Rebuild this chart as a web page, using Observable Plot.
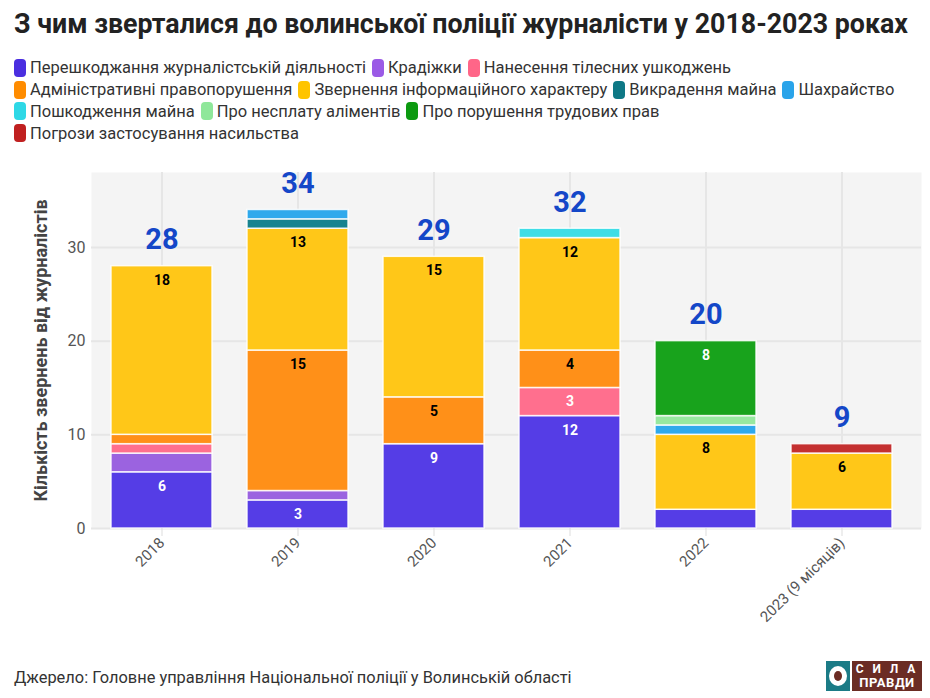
<!DOCTYPE html>
<html><head><meta charset="utf-8">
<script src="https://cdn.jsdelivr.net/npm/d3@7"></script>
<script src="https://cdn.jsdelivr.net/npm/@observablehq/plot@0.6"></script>
<style>
body{margin:0;background:#fff;font-family:"Roboto",sans-serif;width:930px;height:698px;position:relative;overflow:hidden}
#title{position:absolute;left:14px;top:7px;font-size:28px;font-weight:bold;color:#222;white-space:nowrap;transform-origin:0 0}
#legend{position:absolute;left:14px;top:57px;width:912px;font-size:16.5px;color:#333}
.row{height:21.8px;display:flex;align-items:center;white-space:nowrap}
.li{display:inline-flex;align-items:center;margin-right:6px;white-space:nowrap}
.sw{width:12px;height:18px;border-radius:4px;margin-right:4px;display:inline-block}
#chart{position:absolute;left:0;top:155px;width:930px}
#chart svg{max-width:none}
#src{position:absolute;left:14px;top:668px;font-size:16.4px;color:#333}
#logo{position:absolute;left:826px;top:661px;display:flex}
</style></head><body>
<div id="title">З чим зверталися до волинської поліції журналісти у 2018-2023 роках</div>
<div id="legend"></div>
<div id="chart"></div>
<div id="src">Джерело: Головне управління Національної поліції у Волинській області</div>
<div id="logo">
  <div style="width:24px;height:30px;background:#1b7b86;position:relative;margin-right:2px">
    <div style="position:absolute;left:3px;top:5px;width:18px;height:20px;border-radius:50%;background:#fff"></div>
    <div style="position:absolute;left:8px;top:10px;width:8px;height:10px;border-radius:50%;background:#6b2c24"></div>
  </div>
  <div style="width:70px;height:30px;background:#6b2c24;color:#fff;font-weight:bold;font-size:12px;line-height:13px;text-align:center;padding-top:2px;box-sizing:border-box;letter-spacing:3px">С И Л А<br><span style="letter-spacing:0.5px;font-size:13px">ПРАВДИ</span></div>
</div>
<script>
const years = ["2018","2019","2020","2021","2022","2023 (9 місяців)"];
const categories = [
  "Перешкоджання журналістській діяльності",
  "Крадіжки",
  "Нанесення тілесних ушкоджень",
  "Адміністративні правопорушення",
  "Звернення інформаційного характеру",
  "Викрадення майна",
  "Шахрайство",
  "Пошкодження майна",
  "Про несплату аліментів",
  "Про порушення трудових прав",
  "Погрози застосування насильства"
];
const colors = ["#553de6","#9b63e0","#ff6f8e","#ff9018","#ffc718","#17838f","#2fa9ec","#3fdde6","#97e8a0","#18a31c","#c43030"];
const legendColors = ["#4a2ee0","#9b5ae6","#ff6688","#ff8c00","#ffc400","#0e7885","#2aa4ea","#2ed8e6","#8fe79a","#0c9a10","#c02020"];
const whiteLabel = ["Перешкоджання журналістській діяльності","Нанесення тілесних ушкоджень","Про порушення трудових прав"];
// values per category, in the order of years
const pereshkodzhannia = [6,3,9,12,2,2];
const kradizhky     = [2,1,0,0,0,0];
const tilesni       = [1,0,0,3,0,0];
const admin         = [1,15,5,4,0,0];
const zvernennia    = [18,13,15,12,8,6];
const vykradennia   = [0,1,0,0,0,0];
const shakhraistvo  = [0,1,0,0,1,0];
const poshkodzhennia= [0,0,0,1,0,0];
const alimenty      = [0,0,0,0,1,0];
const trudovi       = [0,0,0,0,8,0];
const pohrozy       = [0,0,0,0,0,1];
const series = [pereshkodzhannia,kradizhky,tilesni,admin,zvernennia,vykradennia,shakhraistvo,poshkodzhennia,alimenty,trudovi,pohrozy];
const totals = [28,34,29,32,20,9];

const data = [];
years.forEach((y,i)=>{ categories.forEach((c,j)=>{ if(series[j][i]>0) data.push({year:y,cat:c,value:series[j][i]}); }); });
const totalData = years.map((y,i)=>({year:y,total:totals[i]}));

// title fit
const tt = document.getElementById("title");
const tw = tt.getBoundingClientRect().width;
tt.style.transform = `scaleX(${894/tw})`;

// legend
const lg = document.getElementById("legend");
const rows = [[0,1,2],[3,4,5,6],[7,8,9],[10]];
rows.forEach(r=>{
  const row = document.createElement("div"); row.className="row";
  r.forEach(j=>{
    const s = document.createElement("span"); s.className="li";
    s.innerHTML = `<span class="sw" style="background:${legendColors[j]}"></span>${categories[j]}`;
    row.appendChild(s);
  });
  lg.appendChild(row);
});

const chart = Plot.plot({
  width:930, height:490,
  marginTop:17, marginBottom:117, marginLeft:91, marginRight:18,
  style:{fontFamily:"Roboto,sans-serif", fontSize:"15px", background:"transparent"},
  x:{domain:years, paddingInner:0.255, paddingOuter:0.1275, label:null},
  y:{domain:[0,38], label:null},
  color:{domain:categories, range:colors},
  marks:[
    Plot.frame({fill:"#f4f4f4", stroke:null, insetRight:-9}),
    Plot.gridY([0,10,20,30],{stroke:"#e6e6e6", strokeOpacity:1, strokeWidth:2, insetRight:-9}),
    Plot.gridX({stroke:"#e6e6e6", strokeOpacity:1, strokeWidth:2}),
    Plot.barY(data, Plot.stackY({x:"year", y:"value", z:"cat", order:categories, fill:"cat", stroke:"white", strokeWidth:1.5, strokeOpacity:0.85})),
    Plot.text(data, Plot.stackY2({x:"year", y:"value", z:"cat", order:categories,
      text: d => d.value >= 3 ? String(d.value) : "",
      fill: d => whiteLabel.includes(d.cat) ? "white" : "black",
      stroke: "cat", strokeWidth:3, strokeOpacity:0.6,
      dy:14, fontWeight:"bold", fontSize:14})),
    Plot.text(totalData, {x:"year", y:"total", text:"total", dy:-26, fill:"#1447c8", fontWeight:"bold", fontSize:29}),
    Plot.axisY({ticks:[0,10,20,30], tickSize:0, tickPadding:6, fill:"#555", fontSize:16, marginLeft:91,
      label:"Кількість звернень від журналістів", labelAnchor:"center", labelArrow:"none", labelOffset:57}),
    Plot.axisX({tickRotate:-45, tickSize:8, stroke:"#ddd", fill:"#555", fontSize:15, tickPadding:4, label:null, marginLeft:91, marginBottom:117})
  ]
});
document.getElementById("chart").appendChild(chart);
chart.querySelectorAll("g[aria-label='y-axis label'] text").forEach(t=>{t.setAttribute("font-weight","bold");t.setAttribute("fill","#444");t.setAttribute("font-size","18");});
</script>
</body></html>
